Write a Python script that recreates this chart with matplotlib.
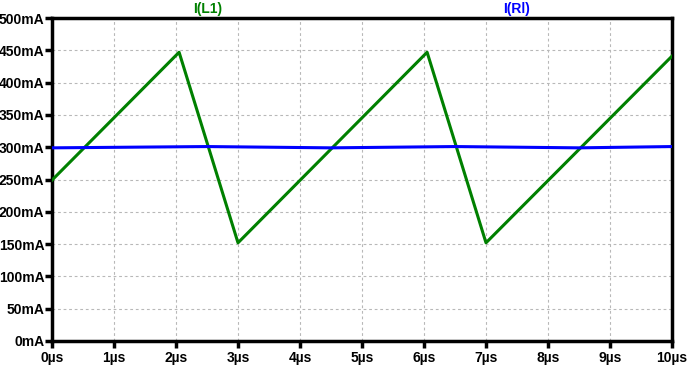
import numpy as np
import matplotlib.pyplot as plt
from matplotlib.ticker import FuncFormatter

# inductor current I(L1), triangle wave corners (time in us, current in mA)
t_l1 = [0.0, 2.05, 3.0, 6.05, 7.0, 10.0]
i_l1 = [249, 447, 152, 447, 152, 441]

# load current I(Rl), nearly flat
t_rl = [0.0, 2.5, 4.5, 6.5, 8.5, 10.0]
i_rl = [299, 301, 299, 301, 299, 301]

x_ticks = list(range(0, 11))
y_ticks = list(range(0, 501, 50))

fam = ['Liberation Sans Narrow', 'Liberation Sans', 'DejaVu Sans']


def main():
    fig = plt.figure(figsize=(6.88, 3.67), dpi=100)
    ax = fig.add_axes([52/688, 26/367, 620/688, 323/367])

    ax.plot(t_l1, i_l1, color='#008000', lw=2.2, zorder=3)
    ax.plot(t_rl, i_rl, color='#0000ff', lw=2.2, zorder=3)

    ax.set_xlim(0, 10)
    ax.set_ylim(0, 500)
    ax.set_xticks(x_ticks)
    ax.set_yticks(y_ticks)
    ax.xaxis.set_major_formatter(FuncFormatter(lambda v, p: '%dµs' % v))
    ax.yaxis.set_major_formatter(FuncFormatter(lambda v, p: '%dmA' % v))
    ax.grid(True, color='#b8b8b8', ls=(0, (2.5, 2.5)), lw=0.8)

    for s in ax.spines.values():
        s.set_linewidth(2.5)
    ax.tick_params(direction='out', length=5, width=2.5, pad=0.5,
                   labelsize=10)
    ax.tick_params(axis='x', pad=2)
    for lab in ax.get_xticklabels() + ax.get_yticklabels():
        lab.set_fontweight('bold')
        lab.set_family(fam)

    fig.text(208/688, 1 - 9/367, 'I(L1)', color='#008000', ha='center',
             va='center', fontsize=10, fontweight='bold',
             family=['Liberation Sans', 'DejaVu Sans'])
    fig.text(517/688, 1 - 9/367, 'I(Rl)', color='#0000ff', ha='center',
             va='center', fontsize=10, fontweight='bold',
             family=['Liberation Sans', 'DejaVu Sans'])

    fig.savefig('out.png', dpi=100)


if __name__ == "__main__":
    main()
